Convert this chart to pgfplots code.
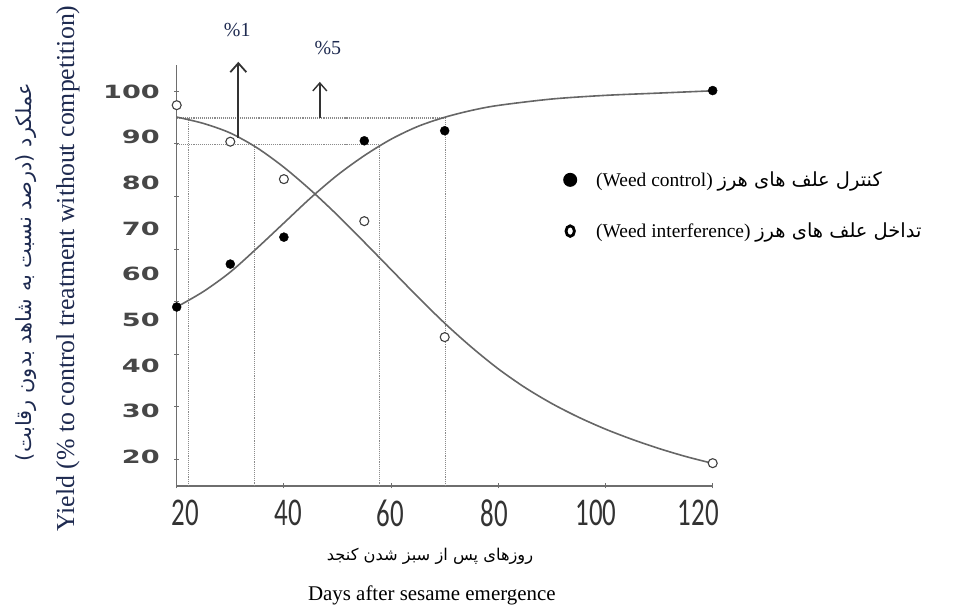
\documentclass[border=0pt]{standalone}
\usepackage{fontspec}
\setmainfont{Liberation Serif}
\newfontfamily\arabicfont[Script=Arabic]{DejaVu Sans}
\newfontfamily\ytickfont{DejaVu Sans}
\newfontfamily\xtickfont{Carlito}
\usepackage{graphicx}
\usepackage{pgfplots}
\pgfplotsset{compat=1.18}
\usetikzlibrary{arrows.meta}
\TeXXeTstate=1

\definecolor{axisgray}{HTML}{6E6E6E}
\definecolor{curvegray}{HTML}{666666}
\definecolor{dotgray}{HTML}{8A8A8A}
\definecolor{xtickcol}{HTML}{333333}
\definecolor{ytickcol}{HTML}{474747}
\definecolor{navy}{HTML}{1E2A50}

\newcommand{\xl}[1]{\scalebox{1}[1.46]{#1}}
\newcommand{\yl}[1]{\scalebox{1.49}[1]{#1}}

\begin{document}
\begin{tikzpicture}
\useasboundingbox (0,0) rectangle (959bp,609bp);
\begin{axis}[
  at={(176.7bp,123bp)}, anchor=south west,
  scale only axis, width=536bp, height=421bp,
  xmin=20, xmax=120, ymin=13.6, ymax=105.8,
  axis lines=left,
  axis line style={-, axisgray, line width=1.4bp},
  clip=false,
  tick style={axisgray, line width=1bp},
  tick align=center, major tick length=5bp,
  xtick={20,40,60,80,100,120}, xticklabels={{},{},{},{},{},{}},
  ytick={19.5,31,42.5,54,65.5,77,88.5,100}, yticklabels={{},{},{},{},{},{},{},{}},
  extra x ticks={21.6,40.8,59.8,79.2,98.2,117.3},
  extra x tick labels={\xl{20},\xl{40},\xl{60},\xl{80},\xl{100},\xl{120}},
  extra x tick style={major tick length=0pt},
  extra y ticks={20,30,40,50,60,70,80,90,100},
  extra y tick labels={\yl{20},\yl{30},\yl{40},\yl{50},\yl{60},\yl{70},\yl{80},\yl{90},\yl{100}},
  extra y tick style={major tick length=0pt},
  xticklabel style={font=\xtickfont\fontsize{27}{27}\selectfont, text=xtickcol,
    inner sep=0pt, anchor=north, yshift=-13.5bp},
  yticklabel style={font=\ytickfont\bfseries\fontsize{18.3}{18.3}\selectfont, text=ytickcol,
    inner sep=0pt, anchor=east, xshift=-16.7bp},
  legend style={draw=none, fill=none, at={(rel axis cs:0.7207,0.6663)}, anchor=west,
    font=\fontsize{19.5}{22}\selectfont, row sep=29bp, inner sep=0pt,
    nodes={inner sep=3bp}},
  legend cell align=left,
]

% dotted guide lines for the 95% and 90% yield levels
\addplot[dotgray, line width=1.1bp, densely dotted, forget plot] coordinates {(20,94.2) (70.2,94.2)};
\addplot[dotgray, line width=1.1bp, densely dotted, forget plot] coordinates {(22.2,94.2) (22.2,13.6)};
\addplot[dotgray, line width=1.1bp, densely dotted, forget plot] coordinates {(70.2,94.2) (70.2,13.6)};
\addplot[dotgray, line width=1.1bp, densely dotted, forget plot] coordinates {(20,88.3) (57.9,88.3)};
\addplot[dotgray, line width=1.1bp, densely dotted, forget plot] coordinates {(34.5,88.3) (34.5,13.6)};
\addplot[dotgray, line width=1.1bp, densely dotted, forget plot] coordinates {(57.9,88.3) (57.9,13.6)};

% fitted curve, weed interference
\addplot[curvegray, line width=1.6bp, smooth, forget plot] coordinates {
  (20,94.4) (25,93.0) (30,90.9) (35,87.65) (40,83.4) (45,78.4) (50,72.9) (55,67.0)
  (60,61.0) (65,55.0) (70,49.25) (75,44.0) (80,39.25) (85,35.15) (90,31.65) (95,28.65)
  (100,26.05) (105,23.8) (110,21.8) (115,20.05) (120,18.55)};
% fitted curve, weed control
\addplot[curvegray, line width=1.6bp, smooth, forget plot] coordinates {
  (20,52.8) (25,56.2) (30,60.45) (35,65.7) (40,71.2) (45,76.7) (50,81.7) (55,85.95)
  (60,89.55) (65,92.35) (70,94.35) (75,95.85) (80,96.95) (90,98.35) (100,99.15)
  (110,99.65) (120,100.15)};

% arrows for the 1% and 5% levels
\addplot[black!80, line width=1.8bp, -{Straight Barb[length=9bp,width=16bp]}, forget plot]
  coordinates {(31.5,89.8) (31.5,106.5)};
\addplot[black!80, line width=1.4bp, -{Straight Barb[length=8bp,width=14bp]}, forget plot]
  coordinates {(46.7,94.2) (46.7,102.1)};
\node[font=\fontsize{20}{20}\selectfont, text=navy] at (axis cs:31.3,113.5) {\%1};
\node[font=\fontsize{20}{20}\selectfont, text=navy] at (axis cs:48.2,109.5) {\%5};

% observed yields
\addplot[only marks, mark=*, mark size=4.5bp, mark options={fill=black, draw=black},
  legend image code/.code={\fill[black, draw=none] (7bp,0) circle (7bp); \path[draw=none, fill=none] (0,0) -- (30bp,0);}]
  coordinates {(20,52.8) (30,62.2) (40,68.1) (55,89.2) (70,91.4) (120,100.2)};
\addlegendentry{(Weed control) {\arabicfont\beginR کنترل علف های هرز\endR}}

\addplot[only marks, mark=*, mark size=4.5bp, mark options={fill=white, draw=black!75, line width=1.1bp},
  legend image code/.code={\draw[black, fill=none, line width=2.8bp] (7bp,0) ellipse (4.2bp and 5.3bp); \path[draw=none, fill=none] (0,0) -- (30bp,0);}]
  coordinates {(20,97.0) (30,89.0) (40,80.8) (55,71.6) (70,46.2) (120,18.6)};
\addlegendentry{(Weed interference) {\arabicfont\beginR تداخل علف های هرز\endR}}

% axis titles
\node[rotate=90, font=\fontsize{25.9}{25.9}\selectfont, text=navy] at (rel axis cs:-0.2028,0.5165)
  {Yield (\% to control treatment without competition)};
\node[rotate=90, font=\arabicfont\fontsize{21}{21}\selectfont, text=navy] at (rel axis cs:-0.281,0.508)
  {\beginR عملکرد (درصد نسبت به شاهد بدون رقابت)\endR};
\node[font=\arabicfont\fontsize{16.3}{16.3}\selectfont] at (rel axis cs:0.4726,-0.168)
  {\beginR روزهای پس از سبز شدن کنجد\endR};
\node[font=\fontsize{21}{21}\selectfont] at (rel axis cs:0.476,-0.259)
  {Days after sesame emergence};
\end{axis}
\end{tikzpicture}
\end{document}
